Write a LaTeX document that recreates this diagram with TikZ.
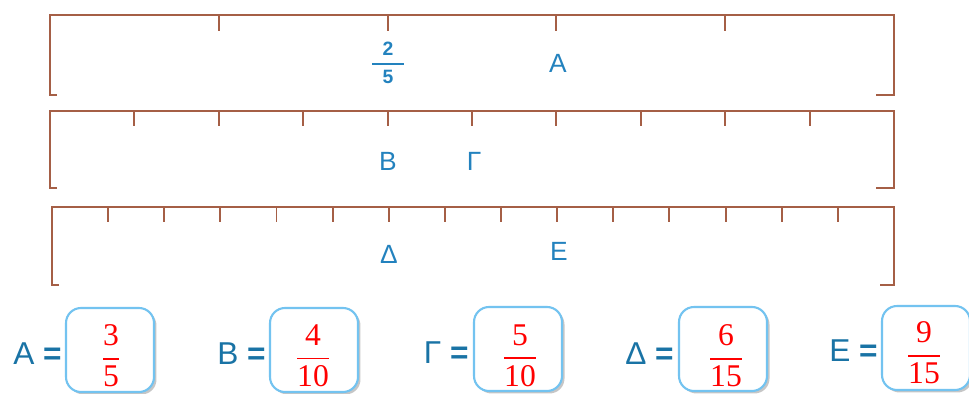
\documentclass[tikz,border=0pt]{standalone}
\usepackage{amsmath}
\usepackage{fontspec}
\setmainfont{Liberation Serif}
\setsansfont{Liberation Sans}
\usetikzlibrary{shadows}
\definecolor{rulebrown}{RGB}{165,95,70}
\definecolor{labelblue}{RGB}{35,130,190}
\definecolor{eqblue}{RGB}{25,115,165}
\definecolor{boxblue}{RGB}{115,195,240}

\begin{document}
\begin{tikzpicture}[
    x=0.02cm, y=-0.02cm,
    bar/.style={draw=rulebrown, line width=1.1pt},
    tick/.style={draw=rulebrown, line width=1.1pt},
    point/.style={text=labelblue, font=\sffamily\fontsize{15}{17}\selectfont, inner sep=0pt},
    smallfrac/.style={text=labelblue, font=\sffamily\bfseries\fontsize{11}{13}\selectfont, inner sep=0pt},
    answer/.style={text=eqblue, font=\sffamily\fontsize{18}{20}\selectfont, anchor=east, inner sep=0pt},
    valbox/.style={draw=boxblue, line width=1.2pt, fill=white, rounded corners=3mm, minimum width=1.76cm, minimum height=1.68cm, inner sep=0pt, drop shadow={shadow xshift=0.05cm, shadow yshift=-0.05cm, opacity=0.45}},
    value/.style={text=red, font=\fontsize{18}{20}\selectfont, inner sep=0pt}
]
\useasboundingbox (0,0) rectangle (969,394);

% Line in fifths
\draw[bar] (57,95) -- (50,95) -- (50,15) -- (894,15) -- (894,95) -- (876,95);
\foreach \i in {1,...,4} \draw[tick] ({50+\i*168.8},15) -- ++(0,16);

% Line in tenths
\draw[bar] (57,188) -- (50,188) -- (50,111) -- (894,111) -- (894,188) -- (876,188);
\foreach \i in {1,...,9} \draw[tick] ({50+\i*84.4},111) -- ++(0,15);

% Line in fifteenths
\draw[bar] (59,285) -- (52,285) -- (52,207) -- (894,207) -- (894,285) -- (880,285);
\foreach \i in {1,...,14} \draw[tick] ({52+\i*56.13},207) -- ++(0,15);

% Points on the lines
\node[smallfrac] (twofifths) at (388,63) {$\genfrac{}{}{1pt}{0}{\text{\hspace{0.55em}2\hspace{0.55em}}}{\text{\hspace{0.55em}5\hspace{0.55em}}}$};
\node[point] (pA) at (558,63) {A};
\node[point] (pB) at (388,161) {B};
\node[point] (pG) at (474,161) {Γ};
\node[point] (pD) at (389,254) {Δ};
\node[point] (pE) at (559,251) {E};

% Answers
\node[valbox] (boxA) at (110,350) {};
\node[valbox] (boxB) at (314,350) {};
\node[valbox] (boxG) at (518,349) {};
\node[valbox] (boxD) at (723,349) {};
\node[valbox] (boxE) at (926,348) {};

\node[answer] (eqA) at (62,354) {A \textbf{=}};
\node[answer] (eqB) at (266,354) {B \textbf{=}};
\node[answer] (eqG) at (469,353) {Γ \textbf{=}};
\node[answer] (eqD) at (674,354) {Δ \textbf{=}};
\node[answer] (eqE) at (878,351) {E \textbf{=}};

\node[value] (vA) at (111,356) {$\genfrac{}{}{1.1pt}{0}{\text{3}}{\text{5}}$};
\node[value] (vB) at (313,356) {$\genfrac{}{}{1.1pt}{0}{\text{4}}{\text{10}}$};
\node[value] (vG) at (520,356) {$\genfrac{}{}{1.1pt}{0}{\text{5}}{\text{10}}$};
\node[value] (vD) at (726,356) {$\genfrac{}{}{1.1pt}{0}{\text{6}}{\text{15}}$};
\node[value] (vE) at (924,353) {$\genfrac{}{}{1.1pt}{0}{\text{9}}{\text{15}}$};

\end{tikzpicture}
\end{document}
